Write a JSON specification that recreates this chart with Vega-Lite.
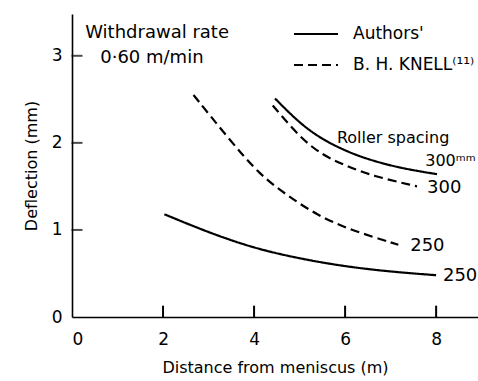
{
  "$schema": "https://vega.github.io/schema/vega-lite/v6.json",
  "width": 406,
  "height": 303,
  "autosize": "none",
  "padding": {"left": 72, "top": 14, "right": 0, "bottom": 64},
  "background": "white",
  "config": {
    "view": {"stroke": null},
    "font": "DejaVu Sans",
    "axis": {
      "grid": false,
      "ticks": false,
      "domainColor": "black",
      "domainWidth": 1.6,
      "labelColor": "black",
      "titleColor": "black",
      "labelFont": "DejaVu Sans",
      "titleFont": "DejaVu Sans",
      "labelFontSize": 17,
      "titleFontSize": 16,
      "titleFontWeight": "normal"
    },
    "legend": {
      "labelFont": "DejaVu Sans",
      "labelFontSize": 17,
      "labelColor": "black"
    }
  },
  "datasets": {
    "curves": [
      {"curve": "Authors 250", "source": "Authors'", "x": 2.03, "y": 1.18},
      {"curve": "Authors 250", "source": "Authors'", "x": 3.0, "y": 0.97},
      {"curve": "Authors 250", "source": "Authors'", "x": 4.0, "y": 0.79},
      {"curve": "Authors 250", "source": "Authors'", "x": 5.0, "y": 0.67},
      {"curve": "Authors 250", "source": "Authors'", "x": 6.0, "y": 0.58},
      {"curve": "Authors 250", "source": "Authors'", "x": 7.0, "y": 0.52},
      {"curve": "Authors 250", "source": "Authors'", "x": 8.0, "y": 0.48},
      {"curve": "Authors 300", "source": "Authors'", "x": 4.46, "y": 2.51},
      {"curve": "Authors 300", "source": "Authors'", "x": 5.01, "y": 2.22},
      {"curve": "Authors 300", "source": "Authors'", "x": 5.5, "y": 2.04},
      {"curve": "Authors 300", "source": "Authors'", "x": 6.0, "y": 1.91},
      {"curve": "Authors 300", "source": "Authors'", "x": 6.5, "y": 1.81},
      {"curve": "Authors 300", "source": "Authors'", "x": 7.21, "y": 1.71},
      {"curve": "Authors 300", "source": "Authors'", "x": 8.02, "y": 1.64},
      {"curve": "Knell 250", "source": "B. H. KNELL⁽¹¹⁾", "x": 2.67, "y": 2.55},
      {"curve": "Knell 250", "source": "B. H. KNELL⁽¹¹⁾", "x": 3.47, "y": 2.03},
      {"curve": "Knell 250", "source": "B. H. KNELL⁽¹¹⁾", "x": 4.13, "y": 1.63},
      {"curve": "Knell 250", "source": "B. H. KNELL⁽¹¹⁾", "x": 4.72, "y": 1.40},
      {"curve": "Knell 250", "source": "B. H. KNELL⁽¹¹⁾", "x": 5.38, "y": 1.17},
      {"curve": "Knell 250", "source": "B. H. KNELL⁽¹¹⁾", "x": 6.11, "y": 1.00},
      {"curve": "Knell 250", "source": "B. H. KNELL⁽¹¹⁾", "x": 7.17, "y": 0.83},
      {"curve": "Knell 300", "source": "B. H. KNELL⁽¹¹⁾", "x": 4.41, "y": 2.43},
      {"curve": "Knell 300", "source": "B. H. KNELL⁽¹¹⁾", "x": 5.01, "y": 2.06},
      {"curve": "Knell 300", "source": "B. H. KNELL⁽¹¹⁾", "x": 5.5, "y": 1.86},
      {"curve": "Knell 300", "source": "B. H. KNELL⁽¹¹⁾", "x": 6.0, "y": 1.74},
      {"curve": "Knell 300", "source": "B. H. KNELL⁽¹¹⁾", "x": 6.6, "y": 1.62},
      {"curve": "Knell 300", "source": "B. H. KNELL⁽¹¹⁾", "x": 7.58, "y": 1.50}
    ],
    "labels": [
      {"text": "Withdrawal rate", "x": 0.29, "y": 3.26, "size": "big"},
      {"text": "0·60 m/min", "x": 0.62, "y": 2.98, "size": "big"},
      {"text": "Roller spacing", "x": 5.82, "y": 2.06, "size": "small"},
      {"text": "300ᵐᵐ", "x": 7.76, "y": 1.79, "size": "small"},
      {"text": "300", "x": 7.8, "y": 1.48, "size": "big"},
      {"text": "250", "x": 7.43, "y": 0.82, "size": "big"},
      {"text": "250", "x": 8.15, "y": 0.47, "size": "big"}
    ],
    "xticks": [{"t": 2}, {"t": 4}, {"t": 6}, {"t": 8}],
    "yticks": [{"t": 1}, {"t": 2}, {"t": 3}]
  },
  "layer": [
    {
      "data": {"name": "curves"},
      "mark": {"type": "line", "interpolate": "basis", "strokeWidth": 2.2, "color": "black"},
      "encoding": {
        "x": {
          "field": "x", "type": "quantitative",
          "scale": {"domain": [0, 8.92], "nice": false, "zero": false},
          "axis": {"values": [0, 2, 4, 6, 8], "format": "d", "labelPadding": 14, "title": "Distance from meniscus (m)", "titlePadding": 12}
        },
        "y": {
          "field": "y", "type": "quantitative",
          "scale": {"domain": [0, 3.48], "nice": false},
          "axis": {"values": [0, 1, 2, 3], "format": "d", "labelPadding": 10, "title": "Deflection (mm)", "titlePadding": 12}
        },
        "detail": {"field": "curve"},
        "strokeDash": {
          "field": "source", "type": "nominal",
          "scale": {"domain": ["Authors'", "B. H. KNELL⁽¹¹⁾"], "range": [[1, 0], [9, 5]]},
          "legend": {
            "title": null,
            "orient": "none",
            "legendX": 221,
            "legendY": -3,
            "padding": 0,
            "symbolType": "stroke",
            "symbolSize": 1936,
            "symbolStrokeWidth": 2,
            "symbolStrokeColor": "black",
            "rowPadding": -14,
            "labelOffset": 14
          }
        }
      }
    },
    {
      "data": {"name": "xticks"},
      "mark": {"type": "rule", "color": "black", "strokeWidth": 2},
      "encoding": {
        "x": {"field": "t", "type": "quantitative"},
        "y": {"datum": 0},
        "y2": {"datum": 0.13}
      }
    },
    {
      "data": {"name": "yticks"},
      "mark": {"type": "tick", "color": "black", "thickness": 2, "size": 11, "orient": "horizontal", "xOffset": 5},
      "encoding": {
        "y": {"field": "t", "type": "quantitative"},
        "x": {"datum": 0}
      }
    },
    {
      "data": {"name": "labels"},
      "mark": {"type": "text", "align": "left", "baseline": "middle", "font": "DejaVu Sans", "color": "black"},
      "encoding": {
        "x": {"field": "x", "type": "quantitative"},
        "y": {"field": "y", "type": "quantitative"},
        "text": {"field": "text"},
        "size": {"field": "size", "type": "nominal", "scale": {"domain": ["small", "big"], "range": [16, 18]}, "legend": null}
      }
    },
    {
      "mark": {"type": "rule", "color": "black", "strokeWidth": 1.6},
      "encoding": {"y": {"datum": 3.48}}
    }
  ]
}
